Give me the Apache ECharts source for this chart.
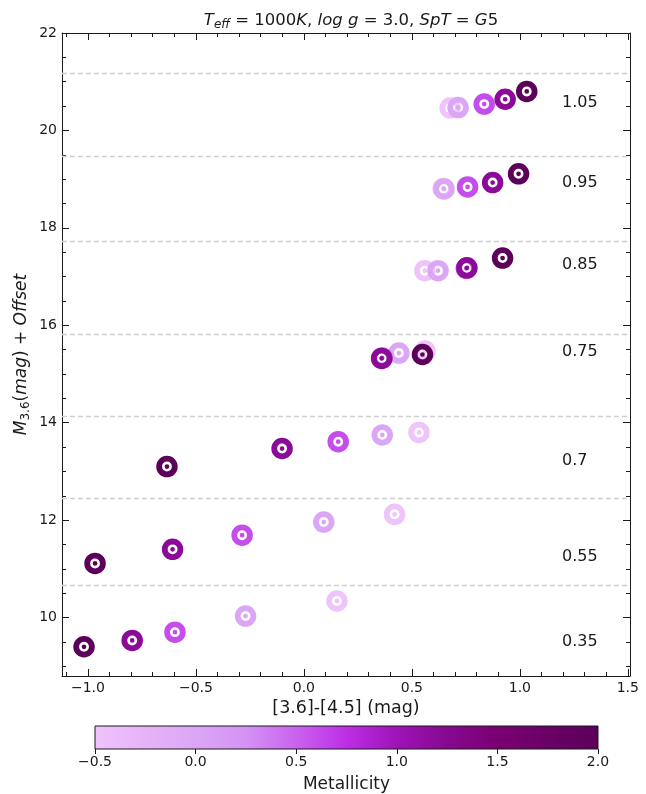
<!DOCTYPE html>
<html>
<head>
<meta charset="utf-8">
<script src="https://cdn.jsdelivr.net/npm/echarts@6/dist/echarts.min.js"></script>
<style>
  html, body { margin: 0; padding: 0; background: #ffffff; }
  #chart { width: 646px; height: 794px; }
</style>
</head>
<body>
<div id="chart"></div>
<script>
// ---- data -------------------------------------------------------------
// Metallicity of the five models in each group (plotting order: metal-poor first)
const metallicity = [-0.5, 0.0, 0.6, 1.2, 2.0];

// [3.6]-[4.5] colour and M3.6 + offset for each group, in metallicity order
const colour035 = [0.153, -0.270, -0.597, -0.795, -1.018];
const mag035    = [10.34, 10.03, 9.70, 9.53, 9.40];
const colour055 = [0.420, 0.092, -0.286, -0.608, -0.967];
const mag055    = [12.12, 11.96, 11.69, 11.40, 11.11];
const colour070 = [0.533, 0.363, 0.159, -0.101, -0.634];
const mag070    = [13.80, 13.75, 13.61, 13.47, 13.10];
const colour075 = [0.561, 0.440, 0.362, 0.360, 0.549];
const mag075    = [15.47, 15.43, 15.33, 15.32, 15.40];
const colour085 = [0.560, 0.621, 0.752, 0.755, 0.920];
const mag085    = [17.12, 17.12, 17.17, 17.18, 17.38];
const colour095 = [0.645, 0.649, 0.758, 0.874, 0.994];
const mag095    = [18.81, 18.80, 18.84, 18.93, 19.11];
const colour105 = [0.677, 0.714, 0.835, 0.932, 1.032];
const mag105    = [20.46, 20.47, 20.54, 20.64, 20.80];

// Group labels and the dashed separators between groups
const groupLabels     = ['0.35', '0.55', '0.7', '0.75', '0.85', '0.95', '1.05'];
const groupLabelMag   = [9.50, 11.24, 13.21, 15.45, 17.24, 18.92, 20.56];
const groupSeparators = [10.67, 12.44, 14.14, 15.81, 17.73, 19.46, 21.175];

// Tick positions
const xMajorTicks = [-1.0, -0.5, 0.0, 0.5, 1.0, 1.5];
const xMinorTicks = [-1.1, -0.9, -0.8, -0.7, -0.6, -0.4, -0.3, -0.2, -0.1,
                     0.1, 0.2, 0.3, 0.4, 0.6, 0.7, 0.8, 0.9, 1.1, 1.2, 1.3, 1.4];
const yMajorTicks = [10, 12, 14, 16, 18, 20, 22];
const yMinorTicks = [9, 9.5, 10.5, 11, 11.5, 12.5, 13, 13.5, 14.5, 15, 15.5,
                     16.5, 17, 17.5, 18.5, 19, 19.5, 20.5, 21, 21.5];

// Colour map for metallicity, evenly spaced from -0.5 to 2.0
const metallicityColours = ['#efc3fb', '#e6b3f8', '#dca6f6', '#d592f4', '#c962ef',
                            '#bd2ee6', '#9e14b8', '#870890', '#7a0072', '#6b0066', '#5c005a'];

// ---- chart ------------------------------------------------------------
const FONT = 'DejaVu Sans';
const INK = '#1a1a1a';
const X_MIN = -1.12, X_MAX = 1.51, Y_MIN = 8.8, Y_MAX = 22;
const LABEL_X = 1.195;

const groups = [
  [colour035, mag035], [colour055, mag055], [colour070, mag070], [colour075, mag075],
  [colour085, mag085], [colour095, mag095], [colour105, mag105]
];
const points = [];
groups.forEach(([xs, ys]) => xs.forEach((x, i) => points.push([x, ys[i], metallicity[i]])));

const labelPoints = groupLabels.map((t, i) => [LABEL_X, groupLabelMag[i], t]);

// ring with a dot in the middle (hollow between them)
const ringDot = 'path://M0,50A50,50,0,1,0,100,50A50,50,0,1,0,0,50Z' +
                'M27,50A23,23,0,1,1,73,50A23,23,0,1,1,27,50Z' +
                'M39,50A11,11,0,1,0,61,50A11,11,0,1,0,39,50Z';

const fmt1 = v => (v < 0 ? '\u2212' : '') + Math.abs(v).toFixed(1);

function xFrame(position, ticks, len, withLine, withLabels) {
  return {
    gridIndex: 0, type: 'value', position, min: X_MIN, max: X_MAX,
    splitLine: { show: false },
    axisLine: { show: withLine, onZero: false, lineStyle: { color: INK, width: 1 } },
    axisTick: { show: true, inside: true, length: len, customValues: ticks,
                lineStyle: { color: INK, width: 1 } },
    axisLabel: withLabels
      ? { show: true, customValues: ticks, formatter: fmt1, fontFamily: FONT,
          fontSize: 14, color: INK, margin: 5 }
      : { show: false }
  };
}
function yFrame(position, ticks, len, withLine, withLabels) {
  return {
    gridIndex: 0, type: 'value', position, min: Y_MIN, max: Y_MAX,
    splitLine: { show: false },
    axisLine: { show: withLine, onZero: false, lineStyle: { color: INK, width: 1 } },
    axisTick: { show: true, inside: true, length: len, customValues: ticks,
                lineStyle: { color: INK, width: 1 } },
    axisLabel: withLabels
      ? { show: true, customValues: ticks, formatter: v => String(v), fontFamily: FONT,
          fontSize: 14, color: INK, margin: 5 }
      : { show: false }
  };
}

const mathRich = size => ({
  i: { fontFamily: FONT, fontSize: size, fontStyle: 'italic', fontWeight: 'normal', color: INK, lineHeight: size + 4 },
  n: { fontFamily: FONT, fontSize: size, fontWeight: 'normal', color: INK, lineHeight: size + 4 },
  s: { fontFamily: FONT, fontSize: Math.round(size * 0.7), fontWeight: 'normal', color: INK,
       lineHeight: Math.round(size * 0.6), verticalAlign: 'bottom' },
  si: { fontFamily: FONT, fontSize: Math.round(size * 0.7), fontStyle: 'italic', fontWeight: 'normal', color: INK,
        lineHeight: Math.round(size * 0.6), verticalAlign: 'bottom' }
});

const xBottom = xFrame('bottom', xMajorTicks, 7, true, true);
xBottom.name = '[3.6]-[4.5] (mag)';
xBottom.nameLocation = 'middle';
xBottom.nameGap = 22;
xBottom.nameTextStyle = { fontFamily: FONT, fontSize: 17.5, color: INK };

const yLeft = yFrame('left', yMajorTicks, 7, true, true);
yLeft.name = '{i|M}{s|3.6}{n|(}{i|mag}{n|) + }{i|Offset}';
yLeft.nameLocation = 'middle';
yLeft.nameGap = 30;
yLeft.nameMoveOverlap = false;
yLeft.nameRotate = 90;
yLeft.nameTextStyle = { fontFamily: FONT, fontSize: 17, color: INK, rich: mathRich(17) };

const gradientStops = metallicityColours.map((c, i) => ({
  offset: i / (metallicityColours.length - 1), color: c
}));

const option = {
  animation: false,
  backgroundColor: '#ffffff',
  title: {
    text: '{i|T}{si|eff}{n| = 1000}{i|K}{n|, }{i|log g}{n| = 3.0, }{i|SpT}{n| = }{i|G}{n|5}',
    left: 346, top: 5, textAlign: 'center',
    textStyle: { fontFamily: FONT, fontSize: 16.5, fontWeight: 'normal', color: INK, rich: mathRich(16.5) }
  },
  grid: [
    { left: 62, right: 16, top: 33, bottom: 118, containLabel: false },
    { left: 95, top: 726, width: 503, height: 25, show: true, z: 3,
      backgroundColor: new echarts.graphic.LinearGradient(0, 0, 1, 0, gradientStops),
      borderColor: INK, borderWidth: 1 }
  ],
  xAxis: [
    xBottom,
    xFrame('bottom', xMinorTicks, 4, false, false),
    xFrame('top', xMajorTicks, 7, true, false),
    xFrame('top', xMinorTicks, 4, false, false),
    {
      gridIndex: 1, type: 'value', position: 'bottom', min: -0.5, max: 2.0, interval: 0.5,
      splitLine: { show: false },
      axisLine: { show: false, onZero: false },
      axisTick: { show: true, inside: false, length: 5, lineStyle: { color: INK } },
      axisLabel: { show: true, formatter: fmt1, fontFamily: FONT, fontSize: 14, color: INK, margin: 6 },
      name: 'Metallicity', nameLocation: 'middle', nameGap: 27,
      nameTextStyle: { fontFamily: FONT, fontSize: 17, color: INK }
    }
  ],
  yAxis: [
    yLeft,
    yFrame('left', yMinorTicks, 4, false, false),
    yFrame('right', yMajorTicks, 7, true, false),
    yFrame('right', yMinorTicks, 4, false, false),
    { gridIndex: 1, type: 'value', min: 0, max: 1, show: false }
  ],
  visualMap: {
    type: 'continuous', show: false, min: -0.5, max: 2.0, dimension: 2,
    seriesIndex: 0, inRange: { color: metallicityColours }
  },
  series: [
    {
      name: 'models', type: 'scatter', xAxisIndex: 0, yAxisIndex: 0,
      symbol: ringDot, symbolSize: 21.5, data: points, silent: true, z: 5,
      itemStyle: { opacity: 1 }
    },
    {
      name: 'groups', type: 'scatter', xAxisIndex: 0, yAxisIndex: 0,
      symbolSize: 0, data: labelPoints, silent: true, z: 4,
      itemStyle: { opacity: 1 },
      label: {
        show: true, position: 'right', distance: 0,
        formatter: p => p.value[2],
        fontFamily: FONT, fontSize: 16, color: INK
      },
      markLine: {
        silent: true, symbol: ['none', 'none'], animation: false,
        label: { show: false },
        lineStyle: { type: [5, 3], color: '#cfcfcf', width: 1.3 },
        data: groupSeparators.map(v => ({ yAxis: v }))
      }
    }
  ]
};

const chart = echarts.init(document.getElementById('chart'), null, { renderer: 'canvas' });
chart.setOption(option);
</script>
</body>
</html>
